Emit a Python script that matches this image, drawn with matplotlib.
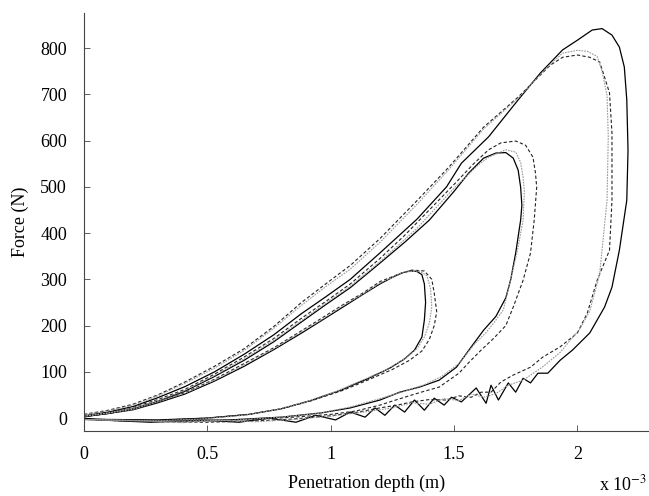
import numpy as np
import matplotlib as mpl
import matplotlib.pyplot as plt

plt.rcParams.update({
    'font.family': 'serif',
    'font.serif': ['Liberation Serif', 'DejaVu Serif'],
    'mathtext.fontset': 'stix',
    'xtick.labelsize': 13,
    'ytick.labelsize': 13,
    'axes.labelsize': 13,
})

# penetration depth (x 1e-3 m) and force (N)
# ---- loop 1 (peak ~ 320 N)
d1_solid = [0, 0.1, 0.2, 0.3, 0.41, 0.53, 0.65, 0.77, 0.88, 0.97, 1.05, 1.13, 1.20, 1.25, 1.29, 1.32,
            1.35, 1.37, 1.38, 1.385, 1.38, 1.37, 1.34, 1.30, 1.24, 1.15, 1.04, 0.92, 0.80, 0.67, 0.50,
            0.30, 0.10, 0]
f1_solid = [3, 10, 18, 33, 52, 80, 112, 148, 183, 213, 240, 267, 290, 304, 314, 318,
            317, 310, 290, 250, 212, 175, 147, 128, 108, 85, 60, 38, 20, 8, 0,
            -4, -3, -2]
d1_dash = [0, 0.1, 0.2, 0.3, 0.41, 0.53, 0.65, 0.77, 0.88, 0.97, 1.05, 1.13, 1.20, 1.28, 1.33, 1.38,
           1.41, 1.42, 1.43, 1.42, 1.40, 1.37, 1.32, 1.25, 1.15, 1.05, 0.92, 0.80, 0.67, 0.50, 0.30, 0]
f1_dash = [4, 11, 20, 36, 55, 84, 118, 152, 188, 218, 245, 270, 295, 312, 320, 318,
           300, 270, 230, 200, 170, 145, 125, 105, 82, 60, 37, 20, 8, 0, -5, -3]
d1_dot = [0, 0.1, 0.2, 0.3, 0.41, 0.53, 0.65, 0.77, 0.88, 0.97, 1.05, 1.13, 1.20, 1.30, 1.36, 1.39,
          1.405, 1.41, 1.40, 1.38, 1.35, 1.30, 1.22, 1.12, 1.02, 0.90, 0.78, 0.65, 0.48, 0.30, 0]
f1_dot = [4, 11, 19, 35, 54, 82, 115, 150, 186, 215, 243, 268, 292, 316, 318, 308,
          280, 240, 205, 175, 150, 128, 103, 80, 57, 35, 18, 6, -2, -6, -3]

# ---- loop 2 (peak ~ 570-600 N)
d2_solid = [0, 0.1, 0.2, 0.3, 0.41, 0.53, 0.65, 0.77, 0.88, 0.98, 1.08, 1.20, 1.30, 1.40, 1.50, 1.56,
            1.62, 1.67, 1.71, 1.74, 1.76, 1.77, 1.775, 1.77, 1.75, 1.73, 1.71, 1.67, 1.62, 1.57, 1.51,
            1.44, 1.36, 1.28, 1.20, 1.08, 0.96, 0.80, 0.59, 0.27, 0]
f2_solid = [3, 10, 20, 36, 58, 90, 125, 165, 207, 245, 282, 335, 380, 428, 490, 530,
            562, 573, 574, 562, 536, 499, 460, 428, 357, 300, 260, 220, 190, 154, 110,
            82, 67, 56, 39, 22, 11, 2, -4, -6, -2]
d2_dash = [0, 0.1, 0.2, 0.3, 0.41, 0.53, 0.65, 0.77, 0.88, 0.98, 1.08, 1.20, 1.30, 1.40, 1.50, 1.58,
           1.64, 1.69, 1.75, 1.79, 1.82, 1.83, 1.835, 1.825, 1.81, 1.78, 1.74, 1.71, 1.66, 1.61, 1.56,
           1.52, 1.44, 1.38, 1.33, 1.24, 1.20, 1.10, 1.00, 0.85, 0.70, 0.40, 0.20, 0]
f2_dash = [5, 12, 23, 40, 62, 95, 132, 172, 215, 252, 290, 345, 395, 450, 505, 550,
           580, 595, 599, 590, 564, 530, 499, 428, 357, 298, 240, 200, 172, 147, 120,
           97, 67, 58, 50, 35, 28, 15, 8, 2, -3, -8, -7, -3]
d2_dot = [0, 0.1, 0.2, 0.3, 0.41, 0.53, 0.65, 0.77, 0.88, 0.98, 1.08, 1.20, 1.35, 1.50, 1.60, 1.64,
          1.71, 1.75, 1.77, 1.78, 1.785, 1.78, 1.755, 1.725, 1.70, 1.66, 1.63, 1.58, 1.52, 1.45, 1.38,
          1.30, 1.20, 1.08, 0.95, 0.80, 0.60, 0.30, 0]
f2_dot = [4, 11, 22, 38, 60, 92, 128, 168, 210, 248, 285, 338, 410, 497, 548, 564,
          580, 575, 553, 520, 490, 428, 357, 290, 234, 205, 185, 158, 118, 90, 72,
          58, 42, 24, 10, 2, -5, -7, -3]

# ---- loop 3 (peak ~ 790-840 N)
d3_solid = [0, 0.1, 0.2, 0.3, 0.41, 0.53, 0.65, 0.77, 0.88, 0.98, 1.08, 1.20, 1.35, 1.47, 1.53, 1.64,
            1.76, 1.85, 1.94, 2.00, 2.06, 2.10, 2.14, 2.17, 2.19, 2.20, 2.205, 2.20, 2.17, 2.14, 2.11,
            2.05, 1.98, 1.93, 1.88, 1.84, 1.81, 1.78, 1.75, 1.72, 1.68, 1.65, 1.63, 1.59, 1.53, 1.49,
            1.46, 1.42, 1.38, 1.34, 1.30, 1.26, 1.22, 1.18, 1.14, 1.08, 1.02, 0.94, 0.86, 0.75, 0.63,
            0.47, 0.27, 0.06, 0]
f3_solid = [5, 13, 25, 44, 68, 100, 138, 180, 225, 262, 300, 357, 430, 500, 551, 608,
            688, 746, 796, 817, 839, 842, 828, 802, 759, 688, 579, 471, 363, 283, 240,
            184, 147, 125, 97, 97, 76, 86, 56, 76, 39, 71, 32, 65, 35, 45,
            28, 43, 17, 39, 13, 28, 6, 22, 2, 13, -4, 6, -9, 0, -9,
            -4, -9, -4, 0]
d3_dash = [0, 0.1, 0.2, 0.3, 0.41, 0.53, 0.65, 0.77, 0.88, 0.98, 1.08, 1.20, 1.35, 1.48, 1.62, 1.76,
           1.89, 1.94, 2.00, 2.05, 2.09, 2.11, 2.13, 2.14, 2.14, 2.13, 2.08, 2.04, 2.00, 1.93, 1.86,
           1.81, 1.74, 1.69, 1.65, 1.61, 1.57, 1.52, 1.47, 1.40, 1.33, 1.27, 1.20, 1.10, 1.00, 0.85,
           0.70, 0.50, 0.30, 0]
f3_dash = [8, 17, 30, 50, 78, 112, 150, 198, 249, 290, 330, 388, 470, 543, 629, 694,
           763, 780, 785, 780, 770, 737, 703, 616, 471, 363, 298, 227, 184, 154, 132,
           110, 93, 78, 56, 56, 45, 48, 39, 40, 35, 28, 22, 12, 5, -2,
           -6, -9, -8, -3]
d3_dot = [0, 0.1, 0.2, 0.3, 0.41, 0.53, 0.65, 0.77, 0.88, 0.98, 1.08, 1.20, 1.35, 1.48, 1.62, 1.76,
          1.89, 1.94, 2.00, 2.04, 2.08, 2.10, 2.12, 2.125, 2.12, 2.09, 2.05, 2.01, 1.93, 1.86, 1.78,
          1.72, 1.67, 1.62, 1.57, 1.52, 1.46, 1.40, 1.33, 1.25, 1.15, 1.00, 0.85, 0.70, 0.55, 0.40,
          0.25, 0]
f3_dot = [7, 16, 28, 48, 75, 108, 146, 194, 243, 284, 322, 380, 462, 538, 625, 692,
          765, 789, 795, 793, 782, 749, 698, 609, 471, 311, 231, 193, 142, 111, 82,
          71, 53, 45, 52, 38, 42, 30, 33, 22, 14, 4, -3, -8, -5, -10,
          -6, -3]

fig = plt.figure(figsize=(6.49, 4.96), dpi=100)
ax = fig.add_axes([0.129, 0.131, 0.871, 0.843])

for d, f in [(d1_solid, f1_solid), (d2_solid, f2_solid), (d3_solid, f3_solid)]:
    ax.plot(d, f, color='black', lw=0.9, ls='-')
for d, f in [(d1_dash, f1_dash), (d2_dash, f2_dash), (d3_dash, f3_dash)]:
    ax.plot(d, f, color='#222222', lw=0.8, ls=(0, (3, 2)))
for d, f in [(d1_dot, f1_dot), (d2_dot, f2_dot), (d3_dot, f3_dot)]:
    ax.plot(d, f, color='#999999', lw=0.8, ls=(0, (1.5, 1)))

ax.set_xlim(0, 2.29)
ax.set_ylim(-28, 876)
ax.set_xticks([0, 0.5, 1, 1.5, 2])
ax.set_xticklabels(['0', '0.5', '1', '1.5', '2'])
ax.set_yticks(np.arange(0, 801, 100))

ax.spines['top'].set_visible(False)
ax.spines['right'].set_visible(False)
ax.spines['left'].set_color('#444444')
ax.spines['bottom'].set_color('#444444')
ax.tick_params(direction='in', length=4, width=0.6, color='#444444')
ax.tick_params(axis='x', pad=11)
ax.tick_params(axis='y', pad=12)

ax.set_xlabel('Penetration depth (m)', labelpad=8)
ax.set_ylabel('Force (N)', labelpad=8)

fig.text(0.997, 0.004, r'x 10$^{-3}$', fontsize=13, ha='right', va='bottom')

plt.savefig('out.png', dpi=100)
